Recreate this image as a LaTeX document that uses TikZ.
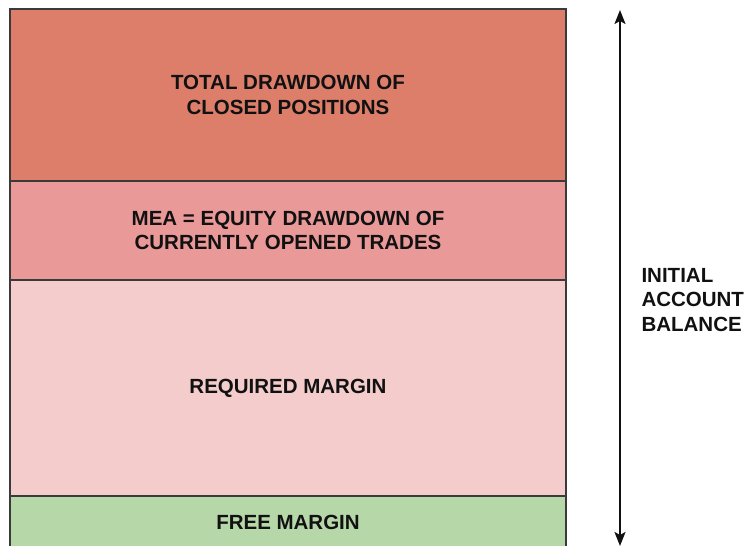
\documentclass[tikz,border=0pt]{standalone}
\usepackage{fontspec}
\setmainfont{Liberation Sans}
\usetikzlibrary{positioning,arrows.meta}
\definecolor{ink}     {HTML}{111111}
\definecolor{edge}    {HTML}{3A3A3A}
\definecolor{closedfill}{HTML}{DD7E6B}
\definecolor{openfill}  {HTML}{EA9999}
\definecolor{reqfill}   {HTML}{F4CCCC}
\definecolor{freefill}  {HTML}{B6D7A8}
\tikzset{
  every node/.style={font=\fontsize{20.5}{24.5}\selectfont\bfseries, text=ink},
  % --- bands of the account
  band/.style  = {draw=edge, line width=1.4pt, minimum width=556pt, inner sep=0pt,
                  outer sep=0pt, align=center, anchor=north},
  lbl/.style   = {align=left, anchor=west},
  % --- edges
  span/.style  = {{Stealth[length=14pt,width=11pt,inset=3pt]}-{Stealth[length=14pt,width=11pt,inset=3pt]},
                  line width=1.8pt, draw=ink},
}
\begin{document}
\begin{tikzpicture}[x=1pt,y=1pt]
  \useasboundingbox (0,0) rectangle (745,546);
  \clip (0,0) rectangle (745,546);
  \node[band, fill=closedfill, minimum height=172pt] (closed) at (288,537)
    {TOTAL DRAWDOWN OF\\CLOSED POSITIONS};
  \node[band, fill=openfill, minimum height=99pt, below=0pt of closed] (opened)
    {MEA = EQUITY DRAWDOWN OF\\CURRENTLY OPENED TRADES};
  \node[band, fill=reqfill, minimum height=216pt, below=0pt of opened] (req)
    {REQUIRED MARGIN};
  \node[band, fill=freefill, minimum height=52pt, below=0pt of req] (free)
    {FREE MARGIN};
  \coordinate (top) at (620,536);
  \coordinate (bot) at (620,0);
  \draw[span] (bot) -- (top);
  \node[lbl] (balance) at (638,246) {INITIAL\\ACCOUNT\\BALANCE};
\end{tikzpicture}
\end{document}
